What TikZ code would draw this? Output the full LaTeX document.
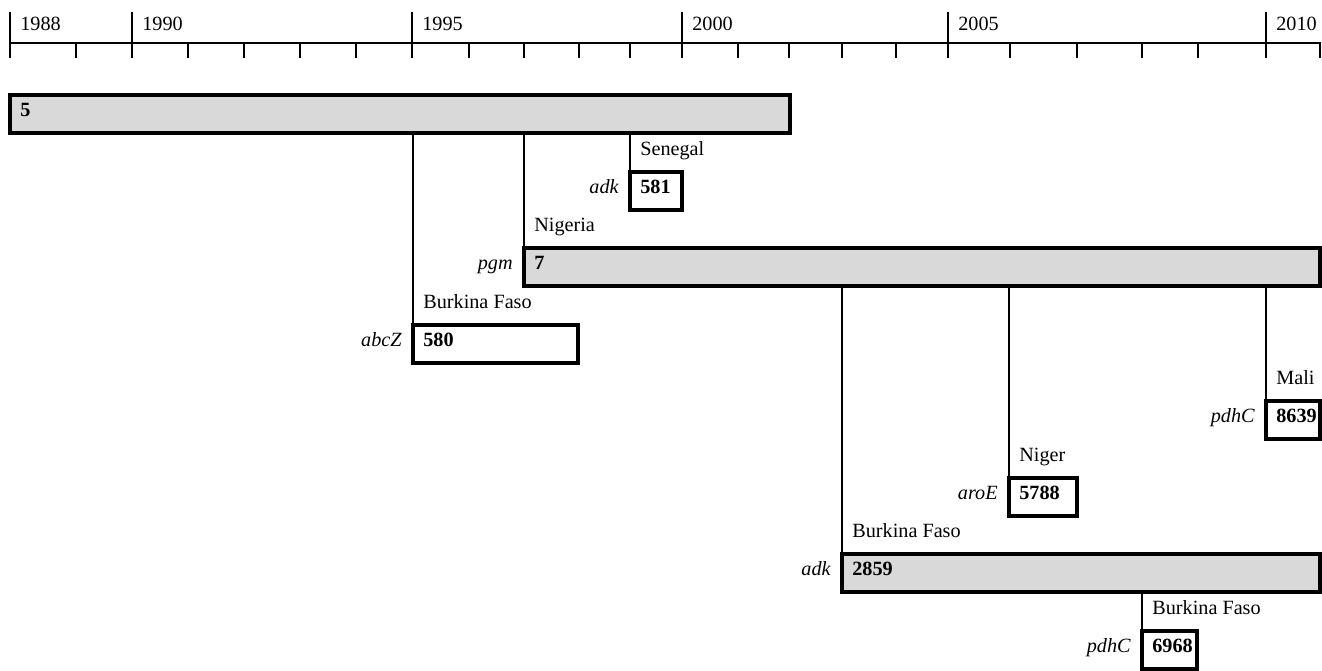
\documentclass[tikz,border=0pt]{standalone}
\usepackage{fontspec}
\setmainfont[Scale=1.15]{Liberation Serif}
\usetikzlibrary{positioning}

\tikzset{
  isolate/.style={draw, line width=2pt, fill=white, anchor=north west, inner sep=0pt, outer sep=0pt, minimum height=7.6mm},
  st/.style={isolate, fill=black!15},
  stnum/.style={anchor=base west, font=\bfseries, inner sep=0pt, xshift=2mm, yshift=-4.2mm},
  gene/.style={anchor=base east, font=\itshape, inner sep=0pt, xshift=-2.2mm, yshift=-4.2mm},
  place/.style={anchor=base west, inner sep=0pt, xshift=2mm, yshift=3.4mm},
  link/.style={line width=0.6pt},
  axis/.style={line width=0.9pt}
}

\begin{document}
\begin{tikzpicture}[x=0.2mm, y=-0.2mm]
\useasboundingbox (0,0) rectangle (1322,670);

% time axis
\draw[axis] (10,43) -- (1321,43);
\foreach \x in {76,188,244,300,356,469,524,579,630,738,789,842,896,1010,1077,1142,1198,1320}
  \draw[axis] (\x,43) -- (\x,58);
\foreach \x/\yr in {10/1988,132/1990,412/1995,682/2000,948/2005,1266/2010}{
  \draw[axis] (\x,12) -- (\x,58);
  \node[anchor=base west, inner sep=0pt] (y\yr) at (\x+10,30) {\yr};
}

% sequence types
\node[st, minimum width=156mm, label={[stnum]north west:5}] (st5) at (10,95) {};
\node[isolate, minimum width=10.4mm, label={[stnum]north west:581}, label={[gene]north west:adk}, label={[place]north west:Senegal}] (st581) at (630,172) {};
\node[st, minimum width=159.2mm, label={[stnum]north west:7}, label={[gene]north west:pgm}, label={[place]north west:Nigeria}] (st7) at (524,248) {};
\node[isolate, minimum width=33mm, label={[stnum]north west:580}, label={[gene]north west:abcZ}, label={[place]north west:Burkina Faso}] (st580) at (413,325) {};
\node[isolate, minimum width=10.8mm, label={[stnum]north west:8639}, label={[gene]north west:pdhC}, label={[place]north west:Mali}] (st8639) at (1266,401) {};
\node[isolate, minimum width=13.6mm, label={[stnum]north west:5788}, label={[gene]north west:aroE}, label={[place]north west:Niger}] (st5788) at (1009,478) {};
\node[st, minimum width=95.6mm, label={[stnum]north west:2859}, label={[gene]north west:adk}, label={[place]north west:Burkina Faso}] (st2859) at (842,554) {};
\node[isolate, minimum width=11mm, label={[stnum]north west:6968}, label={[gene]north west:pdhC}, label={[place]north west:Burkina Faso}] (st6968) at (1142,631) {};

% descent
\draw[link] (st5.south -| st580.north west) -- (st580.north west);
\draw[link] (st5.south -| st7.north west) -- (st7.north west);
\draw[link] (st5.south -| st581.north west) -- (st581.north west);
\draw[link] (st7.south -| st2859.north west) -- (st2859.north west);
\draw[link] (st7.south -| st5788.north west) -- (st5788.north west);
\draw[link] (st7.south -| st8639.north west) -- (st8639.north west);
\draw[link] (st2859.south -| st6968.north west) -- (st6968.north west);
\end{tikzpicture}
\end{document}
